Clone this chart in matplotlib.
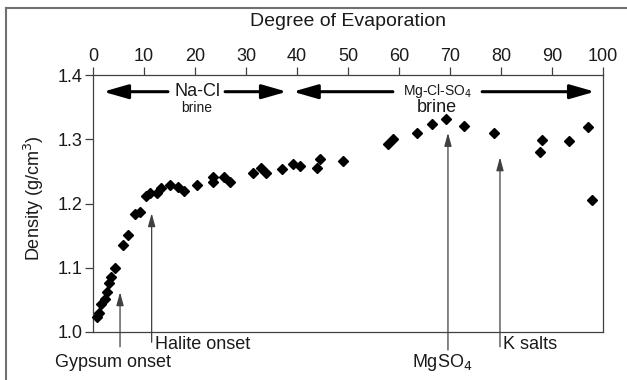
import matplotlib
matplotlib.use("Agg")
import matplotlib.pyplot as plt
from matplotlib.patches import FancyArrowPatch
from matplotlib.lines import Line2D

plt.rcParams['font.family'] = ['Liberation Sans', 'DejaVu Sans']

# Degree of evaporation (%) and brine density (g/cm3)
evaporation = [0.7, 1.2, 1.5, 2.4, 2.7, 3.2, 3.5, 4.4, 5.9, 6.9, 8.2, 9.2,
               10.3, 11.2, 12.6, 13.3, 15.1, 16.7, 17.8, 20.3, 23.6, 23.6,
               25.7, 26.9, 31.3, 32.9, 33.9, 37.0, 39.3, 40.5, 43.9, 44.6,
               49.0, 57.9, 58.9, 63.5, 66.4, 69.2, 72.8, 78.6, 88.1, 87.6,
               93.3, 97.1, 97.9]
density = [1.024, 1.029, 1.044, 1.051, 1.063, 1.077, 1.086, 1.099, 1.135,
           1.151, 1.184, 1.187, 1.212, 1.216, 1.216, 1.224, 1.229, 1.226,
           1.219, 1.229, 1.242, 1.234, 1.242, 1.234, 1.247, 1.255, 1.248,
           1.253, 1.262, 1.258, 1.255, 1.270, 1.266, 1.293, 1.300, 1.309,
           1.323, 1.331, 1.320, 1.309, 1.299, 1.280, 1.298, 1.319, 1.206]

x_ticks = [0, 10, 20, 30, 40, 50, 60, 70, 80, 90, 100]
y_ticks = [1.0, 1.1, 1.2, 1.3, 1.4]
y_tick_labels = ['1.0', '1.1', '1.2', '1.3', '1.4']

# Mineral onset markers: label, evaporation degree, arrow tip density
onset_labels = ['Gypsum onset', 'Halite onset', 'MgSO$_4$', 'K salts']
onset_x = [5.3, 11.5, 69.6, 79.8]
onset_tip = [1.062, 1.185, 1.310, 1.272]

axis_col = '#404040'
text_col = '#1a1a1a'

fig = plt.figure(figsize=(6.27, 3.80), dpi=100)
ax = fig.add_axes([93 / 627, 1 - 332 / 380, 510 / 627, 257 / 380])

ax.plot(evaporation, density, linestyle='none', marker='D', markersize=5.3,
        color='black', clip_on=False, zorder=3)

ax.set_xlim(0, 100)
ax.set_ylim(1.0, 1.4)
ax.xaxis.tick_top()
ax.set_xticks(x_ticks)
ax.set_yticks(y_ticks)
ax.set_yticklabels(y_tick_labels)
ax.tick_params(axis='both', direction='out', length=6, width=0.9,
               color=axis_col, labelsize=13, labelcolor=text_col, pad=1.5)
for sp in ax.spines.values():
    sp.set_color(axis_col)
    sp.set_linewidth(0.9)

fig.text(348 / 627, 1 - 22 / 380, 'Degree of Evaporation', ha='center',
         va='center', fontsize=14, color=text_col)
ax.set_ylabel('Density (g/cm$^3$)', fontsize=13, color=text_col)
ax.yaxis.set_label_coords(-0.092, 0.52)


# Brine-type range arrows, broken around their label
def half_arrow(x_from, x_to, y):
    arr = FancyArrowPatch((x_from, y), (x_to, y),
                          arrowstyle='-|>,head_length=15,head_width=4.3',
                          mutation_scale=1, lw=2.2, color='black',
                          shrinkA=0, shrinkB=0, zorder=2)
    ax.add_patch(arr)


def range_arrow(x0, gap0, gap1, x1, y):
    half_arrow(gap0, x0, y)
    half_arrow(gap1, x1, y)


range_arrow(2.0, 14.7, 25.9, 38.0, 1.374)
ax.text(20.4, 1.374, 'Na-Cl', ha='center', va='center', fontsize=13,
        color=text_col, zorder=4)
ax.text(20.4, 1.349, 'brine', ha='center', va='center', fontsize=10,
        color=text_col, zorder=4)

range_arrow(39.2, 58.8, 76.3, 98.4, 1.374)
ax.text(67.5, 1.375, 'Mg-Cl-SO$_4$', ha='center', va='center', fontsize=10,
        color=text_col, zorder=4)
ax.text(67.5, 1.350, 'brine', ha='center', va='center', fontsize=13,
        color=text_col, zorder=4)

# Onset arrows rising from below the axis
onset_base = [0.977, 0.984, 0.972, 0.977]
for xv, tip, base in zip(onset_x, onset_tip, onset_base):
    ax.annotate('', xy=(xv, tip), xytext=(xv, base),
                arrowprops=dict(arrowstyle='-|>,head_length=0.8,head_width=0.22',
                                color=axis_col, lw=0.9, shrinkA=0, shrinkB=0),
                annotation_clip=False)

ax.text(3.9, 0.953, onset_labels[0], ha='center', va='center', fontsize=13,
        color=text_col)
ax.text(12.2, 0.980, onset_labels[1], ha='left', va='center', fontsize=13,
        color=text_col)
ax.text(68.4, 0.953, onset_labels[2], ha='center', va='center', fontsize=13,
        color=text_col)
ax.text(80.4, 0.980, onset_labels[3], ha='left', va='center', fontsize=13,
        color=text_col)

# Partial outer frame
fig.add_artist(Line2D([6 / 627, 6 / 627], [0, 1 - 7.5 / 380],
                      transform=fig.transFigure, color='#707070', lw=1.5))
fig.add_artist(Line2D([6 / 627, 1], [1 - 7.5 / 380, 1 - 7.5 / 380],
                      transform=fig.transFigure, color='#707070', lw=1.5))

fig.savefig('out.png', dpi=100, facecolor='white')
